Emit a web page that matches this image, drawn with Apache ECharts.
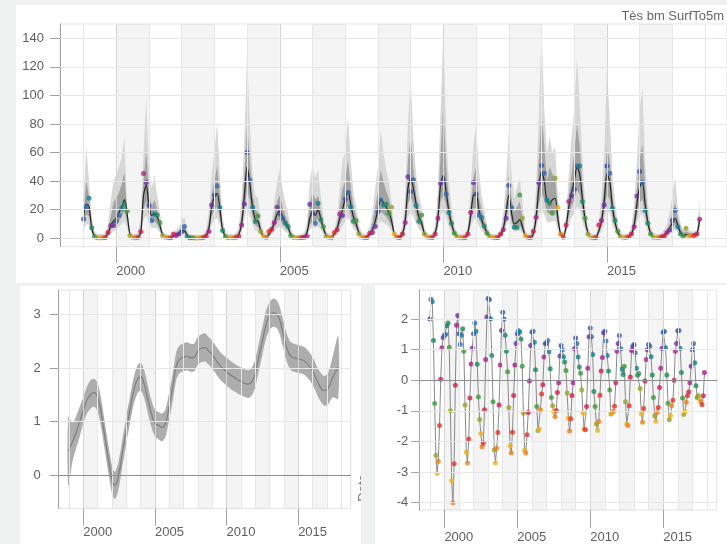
<!DOCTYPE html>
<html>
<head>
<meta charset="utf-8">
<script src="https://cdn.jsdelivr.net/npm/echarts@6/dist/echarts.min.js"></script>
<style>
  html, body { margin: 0; padding: 0; background: #eff0f0; }
  #chart { width: 727px; height: 544px; }
</style>
</head>
<body>
<div id="chart"></div>
<script>
// ---- axes ----
const X_MIN = 1998.28, X_MAX = 2018.67;
const yearTicks = [1999, 2000, 2001, 2002, 2003, 2004, 2005, 2006, 2007, 2008, 2009, 2010, 2011, 2012, 2013, 2014, 2015, 2016, 2017, 2018];
const labelYears = [2000, 2005, 2010, 2015];
const shadedYears = [2000, 2002, 2004, 2006, 2008, 2010, 2012, 2014, 2016];
const countTicks = [0, 20, 40, 60, 80, 100, 120, 140];
const trendTicks = [0, 1, 2, 3];
const seasonTicks = [-4, -3, -2, -1, 0, 1, 2];
const firstYear = 1999;

// month palette, Jan .. Dec
const monthColors = ['#3a4fa6', '#2f6aae', '#14808e', '#1d8a5e', '#3f9a3a', '#9aa329',
                     '#f0b21a', '#f07d1a', '#e5332a', '#d11f4c', '#a8238f', '#6b33a4'];

// ---- monthly observations (one row per year, Jan..Dec) ----
const observed = [
  [13.5, 22, 28, 7.4, 1.0, 0.3, 0.2, 0.3, 0.6, 4, 9, 9],
  [12, 16, 21, 23.8, 19.1, 2, 0.5, 0.3, 0.8, 4.7, 45.3, 39],
  [23, 12.4, 17, 16.3, 11, 2, 0.5, 0.3, 0.3, 3, 2, 3],
  [4.7, 8.2, 1.0, 0.4, 0.3, 0.2, 0.2, 0.3, 0.6, 1.5, 4.7, 23.3],
  [30.3, 36.6, 21.5, 5.4, 1.0, 0.4, 0.3, 0.3, 0.8, 1.5, 9.3, 24],
  [60, 40.8, 21.7, 11.7, 15.6, 4.7, 1, 0.5, 4.7, 6.3, 11, 21.7],
  [17, 14, 10.5, 8.2, 2, 0.5, 0.3, 0.3, 0.5, 0.8, 1.5, 23.8],
  [17.5, 10.5, 24.5, 13, 8, 1.5, 0.5, 0.4, 4, 6, 17, 16],
  [27.5, 32, 22, 12, 12.5, 3, 0.8, 0.4, 0.6, 3.5, 4, 8.2],
  [18.7, 26.8, 23.3, 23.8, 17.5, 21.7, 3, 0.8, 0.5, 3, 11, 43],
  [32.7, 41, 22.9, 12, 16.3, 3, 0.8, 0.5, 0.6, 3, 14, 38.5],
  [40.4, 31, 18, 10.5, 3.5, 1, 0.4, 0.3, 0.5, 3, 18, 39],
  [31, 16.3, 14.5, 8.6, 3.5, 1, 0.5, 0.4, 0.6, 3, 6, 14],
  [37, 21.5, 7.7, 7.5, 30.3, 14, 2, 0.5, 0.5, 5, 14.7, 39],
  [51, 45.5, 26.8, 24.5, 17.5, 42, 21.7, 3, 0.8, 9.3, 25.7, 29.6],
  [34.3, 50.6, 50.6, 25.7, 14, 3, 0.5, 0.3, 0.5, 9.3, 12.4, 23.3],
  [50.6, 45.5, 21, 12.4, 5, 1, 0.3, 0.5, 1, 3, 8, 29.6],
  [46.7, 39, 19.4, 10.5, 3, 0.8, 0.3, 0.5, 1, 1.5, 4, 5.8],
  [12.4, 19.4, 8, 3, 1, 7, 1, 1.5, 2, 3, 13.3]
];

// fitted mean
const fitted = [
  [15, 24, 22, 7, 1.5, 0.5, 0.4, 0.5, 1, 3.5, 9, 12],
  [14, 18, 22, 27, 17, 3, 0.6, 0.5, 0.8, 4, 30, 37],
  [23, 16, 17, 15, 9, 2.5, 0.8, 0.5, 0.5, 1.5, 2.5, 3.5],
  [5.2, 5.4, 2, 0.8, 0.5, 0.4, 0.4, 0.5, 1, 2, 7, 22],
  [29, 31.5, 21, 6, 1.5, 0.6, 0.5, 0.6, 1, 3, 10, 30],
  [50, 38, 22, 13, 12, 5, 1.5, 1, 2.5, 6, 11, 17],
  [19, 15, 11, 8, 2.5, 1, 0.5, 0.5, 0.6, 1.2, 4, 14],
  [18, 16, 20, 14, 7, 2, 1, 1, 3, 7, 14, 20],
  [28, 33, 24, 15, 10, 4, 1.2, 0.8, 1.2, 3, 6, 12],
  [20, 27, 25, 22, 18, 12, 3, 1, 1, 3, 12, 35],
  [42, 35, 24, 15, 11, 3.5, 1.2, 0.8, 1, 3.5, 14, 38],
  [44, 33, 19, 10, 4, 1.5, 0.8, 0.6, 1, 4, 16, 30],
  [31, 20, 13, 8, 4, 1.5, 0.8, 0.6, 1, 2.5, 7, 18],
  [30, 18, 10, 11, 13, 8, 2, 0.8, 0.8, 3, 14, 35],
  [47, 40, 26, 25, 27, 28, 14, 3, 1.2, 8, 22, 32],
  [40, 50, 45, 28, 13, 4, 1, 0.6, 0.8, 5, 12, 26],
  [45, 40, 22, 11, 4, 1.2, 0.6, 0.6, 1, 3, 9, 24],
  [36, 39, 24, 11, 3.5, 1.2, 0.6, 0.6, 1, 2, 4, 7],
  [11, 14, 9, 4, 2, 2.5, 2, 2, 2.5, 3, 13]
];

// outer interval
const outerHi = [
  [27, 64, 40, 15, 5, 3, 3, 3, 4, 10, 27, 40],
  [45, 50, 58, 71, 20, 4, 3, 3, 4, 15, 60, 99],
  [50, 35, 44, 30, 18, 5, 3, 2.5, 2.5, 4, 6, 8],
  [12, 15, 6, 3, 2.5, 2.5, 2.5, 2.5, 3, 6, 20, 45],
  [60, 81, 45, 14, 5, 3, 3, 3, 4, 8, 30, 70],
  [130, 80, 45, 30, 28, 12, 4, 3, 6, 12, 25, 40],
  [48, 35, 25, 18, 7, 3, 2.5, 2.5, 3, 4, 12, 40],
  [50, 42, 48, 30, 15, 5, 3, 3, 6, 15, 35, 55],
  [60, 86, 55, 32, 22, 10, 4, 3, 3.5, 8, 18, 35],
  [50, 76, 60, 48, 40, 25, 6, 3, 3, 8, 30, 80],
  [114, 70, 45, 30, 22, 8, 3.5, 3, 3.5, 9, 35, 90],
  [145, 75, 40, 22, 9, 4, 3, 3, 3.5, 9, 35, 65],
  [80, 48, 30, 20, 9, 4, 3, 3, 3.5, 6, 18, 40],
  [75, 45, 28, 35, 42, 25, 6, 3, 3.5, 10, 35, 85],
  [147, 90, 60, 71, 60, 64, 30, 6, 4, 15, 45, 70],
  [90, 127, 95, 55, 25, 8, 3.5, 3, 3.5, 10, 30, 60],
  [117, 85, 45, 25, 10, 4, 3, 3, 3.5, 8, 25, 55],
  [90, 106, 55, 25, 9, 4, 3, 3, 3.5, 6, 10, 18],
  [30, 43, 22, 10, 6, 8, 6, 5, 5, 6, 27]
];
const outerLo = [
  [6, 10, 9, 3, 0.3, 0, 0, 0, 0.2, 1.2, 3.5, 5],
  [6, 8, 10, 12, 7, 0.8, 0, 0, 0.1, 1.5, 13, 16],
  [10, 7, 7.5, 6.5, 4, 0.8, 0, 0, 0, 0.3, 0.8, 1.2],
  [2, 2.2, 0.5, 0, 0, 0, 0, 0, 0.2, 0.5, 2.8, 9.5],
  [13, 14, 9, 2.5, 0.3, 0, 0, 0, 0.2, 1, 4, 13],
  [22, 16, 9.5, 5.5, 5, 2, 0.3, 0.1, 0.8, 2.5, 4.5, 7.5],
  [8, 6.5, 4.5, 3.5, 0.8, 0.2, 0, 0, 0, 0.3, 1.5, 6],
  [7.5, 7, 8.5, 6, 3, 0.7, 0.2, 0.2, 1.2, 3, 6, 8.5],
  [12, 14.5, 10.5, 6.5, 4.5, 1.5, 0.3, 0.1, 0.4, 1.2, 2.5, 5],
  [9, 12, 11, 9.5, 8, 5, 1.2, 0.2, 0.2, 1.2, 5, 15],
  [18, 15, 10.5, 6.5, 4.5, 1.3, 0.3, 0.1, 0.2, 1.3, 6, 16],
  [19, 14.5, 8, 4.5, 1.5, 0.5, 0.1, 0, 0.2, 1.5, 7, 13],
  [13.5, 8.5, 5.5, 3.5, 1.5, 0.5, 0.1, 0, 0.2, 1, 3, 8],
  [13, 8, 4.5, 5, 5.5, 3.5, 0.8, 0.2, 0.2, 1.2, 6, 15],
  [20, 17, 11.5, 11, 12, 12, 6, 1.2, 0.3, 3.5, 9.5, 14],
  [17.5, 22, 20, 12, 5.5, 1.5, 0.3, 0.1, 0.2, 2, 5, 11.5],
  [19.5, 17.5, 9.5, 4.5, 1.5, 0.4, 0.1, 0.1, 0.2, 1.2, 4, 10.5],
  [16, 17, 10.5, 4.5, 1.3, 0.4, 0.1, 0.1, 0.2, 0.8, 1.5, 3],
  [4.5, 6, 4, 1.5, 0.7, 0.8, 0.7, 0.7, 0.9, 1.2, 5.5]
];

// inner interval
const innerHi = [
  [18, 41, 28, 10, 3, 1.5, 1.5, 1.5, 2, 6, 15, 25],
  [28, 32, 38, 46, 18, 3, 2, 2, 2, 8, 40, 62],
  [32, 22, 27, 20, 12, 3, 2, 1.5, 1.5, 2.5, 4, 5],
  [7, 9, 3.5, 1.5, 1.2, 1.2, 1.2, 1.2, 2, 4, 12, 30],
  [40, 51, 30, 9, 3, 1.5, 1.5, 1.5, 2, 5, 18, 45],
  [80, 55, 30, 20, 18, 8, 2.5, 2, 4, 8, 15, 26],
  [30, 22, 16, 12, 4, 1.5, 1.2, 1.2, 1.5, 2.5, 7, 24],
  [32, 27, 30, 20, 10, 3, 1.5, 1.5, 4, 10, 22, 35],
  [40, 55, 36, 22, 15, 6, 2, 1.5, 2, 5, 11, 22],
  [32, 48, 40, 33, 28, 18, 4, 1.5, 1.5, 5, 20, 55],
  [72, 48, 30, 20, 15, 5, 2, 1.5, 2, 6, 22, 60],
  [95, 50, 27, 15, 5, 2, 1.5, 1.5, 2, 6, 22, 42],
  [50, 30, 20, 13, 6, 2, 1.5, 1.5, 2, 4, 11, 25],
  [44, 28, 18, 22, 26, 15, 3.5, 1.5, 2, 6, 22, 55],
  [88, 65, 40, 50, 45, 42, 20, 4, 2, 10, 30, 45],
  [60, 80, 65, 38, 17, 5, 2, 1.5, 2, 7, 18, 38],
  [64, 55, 30, 16, 6, 2, 1.5, 1.5, 2, 5, 15, 35],
  [55, 66, 38, 16, 5, 2, 1.5, 1.5, 2, 3.5, 6, 10],
  [18, 25, 14, 7, 4, 5, 4, 3.5, 3.5, 4, 18]
];
const innerLo = [
  [10, 17, 15, 5, 0.8, 0.2, 0.2, 0.2, 0.5, 2.2, 6, 8],
  [9, 12, 15, 19, 11, 1.5, 0.3, 0.2, 0.4, 2.5, 20, 26],
  [16, 11, 12, 10, 6, 1.5, 0.4, 0.2, 0.2, 0.8, 1.5, 2],
  [3.2, 3.5, 1, 0.4, 0.2, 0.2, 0.2, 0.2, 0.5, 1, 4.5, 15],
  [20, 22, 14, 4, 0.8, 0.3, 0.2, 0.3, 0.5, 1.8, 6.5, 20],
  [34, 26, 15, 9, 8, 3, 0.8, 0.5, 1.5, 4, 7.5, 12],
  [13, 10, 7.5, 5.5, 1.5, 0.5, 0.2, 0.2, 0.3, 0.7, 2.5, 9.5],
  [12, 11, 14, 9.5, 4.5, 1.2, 0.5, 0.5, 2, 4.5, 9.5, 14],
  [19, 23, 16, 10, 7, 2.5, 0.6, 0.4, 0.7, 2, 4, 8],
  [14, 19, 17, 15, 12, 8, 2, 0.5, 0.5, 2, 8, 24],
  [29, 24, 16, 10, 7.5, 2.2, 0.6, 0.4, 0.5, 2.2, 9.5, 26],
  [30, 23, 13, 7, 2.5, 0.8, 0.4, 0.3, 0.5, 2.5, 11, 21],
  [21, 14, 9, 5.5, 2.5, 0.8, 0.4, 0.3, 0.5, 1.5, 4.5, 12],
  [21, 12, 7, 7.5, 9, 5.5, 1.2, 0.4, 0.4, 2, 9.5, 24],
  [32, 27, 18, 17, 18, 19, 9.5, 2, 0.6, 5.5, 15, 22],
  [27, 34, 31, 19, 9, 2.5, 0.5, 0.3, 0.4, 3.2, 8, 18],
  [31, 27, 15, 7.5, 2.5, 0.7, 0.3, 0.3, 0.5, 2, 6, 16],
  [25, 27, 16, 7.5, 2.2, 0.7, 0.3, 0.3, 0.5, 1.2, 2.5, 4.5],
  [7, 9.5, 6, 2.5, 1.2, 1.5, 1.2, 1.2, 1.5, 2, 8.5]
];

// ---- long-term trend ----
const trendYear = [1998.95, 1999.25, 1999.5, 1999.75, 2000.0, 2000.25, 2000.5, 2000.75, 2001.0, 2001.25, 2001.5, 2001.75,
  2002.0, 2002.2, 2002.45, 2002.75, 2003.0, 2003.25, 2003.5, 2003.75, 2004.0, 2004.25, 2004.5, 2004.75,
  2005.0, 2005.25, 2005.5, 2005.75, 2006.0, 2006.25, 2006.5, 2006.75, 2007.0, 2007.25, 2007.5, 2007.75,
  2008.0, 2008.25, 2008.5, 2008.75, 2009.0, 2009.5, 2010.0, 2010.5, 2011.0, 2011.5, 2011.75, 2012.0,
  2012.25, 2012.5, 2012.75, 2013.0, 2013.3, 2013.6, 2013.9, 2014.2, 2014.5, 2015.0, 2015.5, 2016.0,
  2016.4, 2016.8, 2017.1, 2017.4, 2017.8];
const trendMid = [0.45, 0.62, 0.8, 1.0, 1.21, 1.4, 1.5, 1.54, 1.45, 1.15, 0.72, 0.3,
  -0.08, -0.19, -0.02, 0.45, 0.85, 1.21, 1.55, 1.77, 1.84, 1.7, 1.42, 1.15,
  0.97, 0.93, 0.89, 0.98, 1.3, 1.65, 2.05, 2.17, 2.2, 2.22, 2.19, 2.2,
  2.32, 2.37, 2.38, 2.32, 2.25, 2.06, 1.93, 1.83, 1.75, 1.7, 1.74, 1.9,
  2.2, 2.5, 2.8, 2.97, 3.03, 2.97, 2.7, 2.38, 2.22, 2.17, 2.12, 1.95,
  1.72, 1.58, 1.62, 1.82, 2.02];
const trendHi = [1.1, 0.98, 1.1, 1.28, 1.45, 1.65, 1.77, 1.8, 1.72, 1.42, 0.98, 0.56,
  0.18, 0.06, 0.24, 0.7, 1.1, 1.46, 1.8, 2.03, 2.1, 1.96, 1.68, 1.4,
  1.22, 1.18, 1.15, 1.24, 1.56, 1.91, 2.31, 2.43, 2.46, 2.48, 2.45, 2.46,
  2.58, 2.63, 2.65, 2.58, 2.51, 2.32, 2.19, 2.09, 2.01, 1.96, 2.0, 2.16,
  2.46, 2.76, 3.06, 3.23, 3.3, 3.23, 2.96, 2.64, 2.48, 2.43, 2.38, 2.21,
  1.98, 1.85, 1.92, 2.2, 2.6];
const trendLo = [-0.2, 0.26, 0.5, 0.72, 0.97, 1.15, 1.24, 1.28, 1.18, 0.88, 0.46, 0.04,
  -0.34, -0.45, -0.28, 0.2, 0.6, 0.96, 1.3, 1.51, 1.58, 1.44, 1.16, 0.9,
  0.72, 0.67, 0.63, 0.72, 1.04, 1.39, 1.79, 1.91, 1.94, 1.96, 1.93, 1.94,
  2.06, 2.11, 2.12, 2.06, 1.99, 1.8, 1.67, 1.57, 1.49, 1.44, 1.48, 1.64,
  1.94, 2.24, 2.54, 2.71, 2.77, 2.71, 2.44, 2.12, 1.96, 1.91, 1.86, 1.69,
  1.46, 1.3, 1.32, 1.45, 1.42];

// ---- seasonal component (one row per year, Jan..Dec) ----
const seasonal = [
  [2.0, 2.65, 2.57, 1.3, -0.76, -2.45, -3.05, -2.65, -1.48, 0.03, 1.06, 1.4],
  [1.47, 1.5, 1.78, 1.87, 1.08, -1.0, -3.28, -4.0, -2.73, -0.16, 1.8, 2.12],
  [1.52, 1.17, 1.47, 1.68, 0.95, -0.81, -2.35, -2.7, -1.92, -0.58, 0.53, 1.05],
  [1.52, 1.87, 1.6, 0.52, -0.55, -1.28, -1.75, -2.17, -2.05, -0.96, 0.68, 2.07],
  [2.67, 2.63, 2.01, 0.81, -0.7, -2.27, -2.7, -2.22, -1.71, -0.81, 0.5, 1.63],
  [2.22, 2.0, 1.47, 0.95, 0.28, -0.89, -2.16, -2.38, -1.7, -0.5, 0.5, 1.2],
  [1.52, 1.62, 1.58, 1.35, 0.46, -1.08, -2.29, -2.38, -1.78, -1.05, -0.02, 1.14],
  [1.58, 1.6, 1.24, 0.34, -0.86, -1.64, -1.59, -0.96, -0.45, -0.15, 0.76, 1.2],
  [1.2, 1.3, 0.93, 0.38, -0.56, -0.83, -1.03, -1.19, -0.99, -0.4, -0.08, 0.79],
  [1.14, 1.0, 0.77, 0.6, 0.32, -0.42, -1.24, -1.66, -1.26, -0.5, -0.08, 1.03],
  [1.38, 1.2, 0.76, 0.43, 0.23, -0.32, -1.07, -1.59, -1.62, -0.86, 0.39, 1.42],
  [1.71, 1.42, 0.84, -0.37, -0.86, -1.43, -1.64, -1.35, -0.49, 0.3, 0.74, 1.55],
  [1.6, 1.28, 0.81, 0.3, -0.32, -1.1, -1.07, -1.02, -0.85, -0.08, 0.95, 1.2],
  [1.46, 1.03, 0.36, 0.19, 0.46, -0.7, -1.43, -1.48, -0.83, 0.11, 0.97, 1.1],
  [1.17, 0.9, 0.39, 0.16, 0.22, -0.27, -1.1, -1.37, -0.92, -0.02, 0.68, 1.0],
  [1.17, 1.11, 0.77, 0.17, -0.56, -1.16, -1.34, -1.05, -0.89, -0.24, 0.39, 1.04],
  [1.57, 1.6, 1.06, 0.17, -0.75, -1.29, -1.16, -0.83, -0.65, 0.0, 0.95, 1.2],
  [1.62, 1.63, 1.04, 0.25, -0.58, -1.12, -1.03, -0.72, -0.51, -0.38, -0.08, 0.46],
  [1.0, 1.2, 0.57, -0.18, -0.56, -0.5, -0.62, -0.7, -0.8, -0.51, 0.25]
];

// ---- helpers ----
const flat = rows => [].concat(...rows);
const monthX = i => firstYear + i / 12;
const pairs = arr => arr.map((v, i) => [monthX(i), v]);
const colored = arr => arr.map((v, i) => ({ value: [monthX(i), v], itemStyle: { color: monthColors[i % 12] } }));

const obsFlat = flat(observed), fitFlat = flat(fitted);
const oHi = flat(outerHi), oLo = flat(outerLo), iHi = flat(innerHi), iLo = flat(innerLo);
const seasFlat = flat(seasonal);
const monthXs = oHi.map((_, i) => monthX(i));

const AXIS = '#a2a2a2';
const TEXT = { fontFamily: 'Liberation Sans', fontSize: 13, color: '#5f5f5f' };
const plain = v => String(v);

function minorX(grid, len) {
  return {
    type: 'value', gridIndex: grid, position: 'bottom', min: X_MIN, max: X_MAX,
    axisLine: { show: true, lineStyle: { color: AXIS, width: 1 } },
    axisTick: { show: true, customValues: yearTicks, length: len, lineStyle: { color: AXIS } },
    axisLabel: { show: false }, splitLine: { show: false }
  };
}
function majorX(grid, len, margin) {
  return {
    type: 'value', gridIndex: grid, position: 'bottom', offset: 0, min: X_MIN, max: X_MAX,
    axisLine: { show: false },
    axisTick: { show: true, customValues: labelYears, length: len, lineStyle: { color: AXIS } },
    axisLabel: Object.assign({ show: true, customValues: labelYears, align: 'left', margin: margin, formatter: plain }, TEXT),
    splitLine: { show: false }
  };
}
function yAxisFor(grid, min, max, vals, len, margin) {
  return {
    type: 'value', gridIndex: grid, position: 'left', min: min, max: max,
    axisLine: { show: true, lineStyle: { color: AXIS, width: 1 } },
    axisTick: { show: true, customValues: vals, length: len, lineStyle: { color: AXIS } },
    axisLabel: Object.assign({ show: true, customValues: vals, margin: margin, formatter: plain }, TEXT),
    splitLine: { show: false }
  };
}
// year shading and reference lines for one panel
function frame(xi, yi, hLines, zero) {
  const lines = yearTicks.map(y => ({
    xAxis: y, lineStyle: { color: labelYears.includes(y) ? '#d4d4d4' : '#e7e7e7', width: 1, type: 'solid' }
  }));
  hLines.forEach(v => lines.push({
    yAxis: v, lineStyle: { color: (zero && v === 0) ? '#8e8e8e' : '#e7e7e7', width: 1, type: 'solid' }
  }));
  return {
    type: 'line', xAxisIndex: xi, yAxisIndex: yi, data: [], z: 1, silent: true,
    markArea: { silent: true, itemStyle: { color: 'rgba(0,0,0,0.045)' },
      data: shadedYears.map(y => [{ xAxis: y }, { xAxis: y + 1 }]) },
    markLine: { silent: true, symbol: 'none', label: { show: false }, animation: false, data: lines }
  };
}
// filled interval between lo and hi, drawn as one polygon in data coordinates
function band(xi, yi, xs, lo, hi, color, z, smooth) {
  return {
    type: 'custom', xAxisIndex: xi, yAxisIndex: yi, z: z, silent: true, clip: true,
    data: xs.map((x, i) => [x, lo[i], hi[i]]),
    encode: { x: 0, y: [1, 2] },
    renderItem: (params, api) => {
      if (params.dataIndex !== 0) return null;
      const top = xs.map((x, i) => api.coord([x, hi[i]]));
      const bottom = xs.map((x, i) => api.coord([x, lo[i]])).reverse();
      return { type: 'polygon', shape: { points: top.concat(bottom), smooth: smooth }, style: { fill: color } };
    }
  };
}

const option = {
  animation: false,
  backgroundColor: '#eff0f0',
  graphic: [
    { type: 'rect', shape: { x: 16, y: 5, width: 711, height: 278 }, style: { fill: '#ffffff' }, z: -10, silent: true },
    { type: 'rect', shape: { x: 20, y: 286, width: 341, height: 258 }, style: { fill: '#ffffff' }, z: -10, silent: true },
    { type: 'text', x: 363, y: 488, rotation: Math.PI / 2, z: -5, silent: true,
      style: { text: 'Date', font: '13px "Liberation Sans"', fill: '#777', align: 'center', verticalAlign: 'middle' } },
    { type: 'rect', shape: { x: 361, y: 284, width: 14, height: 260 }, style: { fill: '#eff0f0' }, z: -4, silent: true },
    { type: 'rect', shape: { x: 375, y: 285, width: 352, height: 259 }, style: { fill: '#ffffff' }, z: -3, silent: true },
    { type: 'text', x: 724, y: 16, silent: true,
      style: { text: 'Tès bm SurfTo5m', font: '13px "Liberation Sans"', fill: '#666', align: 'right', verticalAlign: 'middle' } }
  ],
  grid: [
    { left: 60, top: 24, width: 667, height: 222.7, show: true, borderColor: '#e3e3e3', borderWidth: 1, backgroundColor: 'transparent' },
    { left: 58.7, top: 290, width: 292, height: 218.3, show: true, borderColor: '#e3e3e3', borderWidth: 1, backgroundColor: 'transparent' },
    { left: 419.3, top: 290, width: 297.4, height: 221.7, show: true, borderColor: '#e3e3e3', borderWidth: 1, backgroundColor: 'transparent' }
  ],
  xAxis: [
    minorX(0, 8), majorX(0, 16, 18),
    minorX(1, 8), majorX(1, 17, 18),
    minorX(2, 10), majorX(2, 18, 21)
  ],
  yAxis: [
    yAxisFor(0, -5.9, 150, countTicks, 10, 16),
    yAxisFor(1, -0.622, 3.458, trendTicks, 9, 18),
    yAxisFor(2, -4.24, 2.95, seasonTicks, 8, 11)
  ],
  series: [
    // counts panel
    frame(0, 0, countTicks, false),
    band(0, 0, monthXs, oLo, oHi, '#d7d7d7', 2, 0),
    band(0, 0, monthXs, iLo, iHi, '#a3a3a3', 2, 0),
    { type: 'line', xAxisIndex: 0, yAxisIndex: 0, symbol: 'none', smooth: 0.3, data: pairs(fitFlat),
      lineStyle: { color: '#222', width: 1.2 }, z: 3, silent: true },
    { type: 'scatter', xAxisIndex: 0, yAxisIndex: 0, symbolSize: 5, data: colored(obsFlat), z: 4, silent: true },

    // trend panel
    frame(2, 1, trendTicks, true),
    band(2, 1, trendYear, trendLo, trendHi, '#adadad', 2, 0.3),
    { type: 'line', xAxisIndex: 2, yAxisIndex: 1, symbol: 'none', smooth: true,
      data: trendMid.map((v, i) => [trendYear[i], v]), lineStyle: { color: '#7e7e7e', width: 1.2 }, z: 3, silent: true },

    // seasonal panel
    frame(4, 2, seasonTicks, true),
    { type: 'line', xAxisIndex: 4, yAxisIndex: 2, symbol: 'none', data: pairs(seasFlat),
      lineStyle: { color: '#8a8a8a', width: 1 }, z: 3, silent: true },
    { type: 'scatter', xAxisIndex: 4, yAxisIndex: 2, symbolSize: 5, data: colored(seasFlat), z: 4, silent: true }
  ]
};

const chart = echarts.init(document.getElementById('chart'), null, { renderer: 'canvas' });
chart.setOption(option);
</script>
</body>
</html>
